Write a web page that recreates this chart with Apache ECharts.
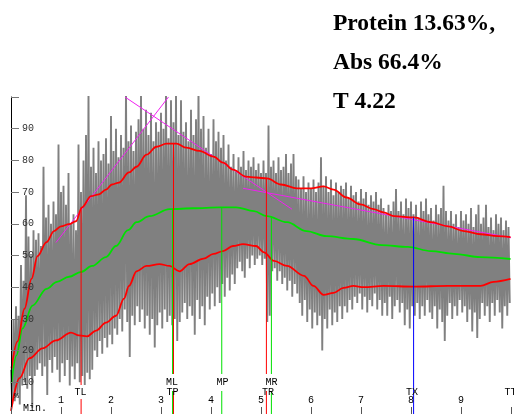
<!DOCTYPE html>
<html><head><meta charset="utf-8">
<script src="https://cdn.jsdelivr.net/npm/echarts@6/dist/echarts.min.js"></script>
<style>html,body{margin:0;padding:0;background:#fff}#c{width:514px;height:414px}</style>
</head><body><div id="c"></div>
<script>
// ---- data ----
const titleLines = ['Protein 13.63%,', 'Abs 66.4%', 'T 4.22'];
const xTickLabels = ['1','2','3','4','5','6','7','8','9'];
const yTickLabels = ['10','20','30','40','50','60','70','80','90'];

// raw mixograph trace: one high and one low value every 0.05 min
const traceStep = 0.05;
const traceHigh = [
 14,30,34,31,47,42,69,56,50,58,
 55,57,53,78,62,66,60,67,63,85,
 70,72,66,76,60,63,58,85,70,80,
 88,102,78,84,76,86,80,82,87,79,
 94,83,90,81,88,84,102,86,91,83,
 89,93,101,90,96,88,95,86,92,89,
 95,90,102,87,99,92,101,88,99,89,
 92,86,96,88,93,103,90,94,84,90,
 82,93,86,89,84,88,80,85,78,82,
 77,81,78,83,77,80,78,81,77,79,
 76,80,76,91,78,80,76,81,77,78,
 82,76,79,82,75,74,71,75,70,73,
 71,74,70,73,81,72,75,70,74,69,
 73,70,72,71,73,68,72,69,70,67,
 71,68,70,66,69,67,70,66,68,65,
 63,66,64,67,71,64,67,63,68,65,
 67,63,66,62,67,64,68,63,65,61,
 66,63,65,72,64,61,64,60,63,59,
 64,61,63,60,65,59,63,66,60,62,
 66,59,62,58,63,60,62,58,61,59
];
const traceLow = [
 3,4,6,3,9,10,8,12,2,12,
 14,16,12,15,6,17,13,18,14,10,
 16,12,17,9,15,11,16,10,12,9,
 13,11,14,20,18,23,19,24,21,25,
 22,27,25,30,26,33,29,18,31,28,
 34,29,33,27,31,25,30,21,28,32,
 27,33,29,31,28,30,23,29,32,35,
 30,34,31,25,36,30,34,28,37,33,
 38,34,40,35,41,37,43,39,44,41,
 46,48,45,43,49,46,50,47,49,50,
 47,49,29,31,45,46,42,45,41,43,
 39,42,37,41,38,35,31,36,29,33,
 27,32,28,31,20,30,27,33,28,32,
 29,34,30,34,32,36,33,37,35,38,
 33,37,32,36,34,38,33,36,31,35,
 31,37,30,34,36,32,35,28,33,27,
 34,31,35,30,34,31,36,32,30,34,
 27,33,29,23,31,35,30,34,31,36,
 32,34,29,33,26,32,24,30,35,31,
 34,29,35,31,36,32,27,34,31,35
];

// envelope curves (time in min, value in %)
const upperTime  = [0.01,0.13,0.27,0.41,0.53,0.71,0.86,1.00,1.16,1.30,1.42,1.60,1.76,1.90,2.02,2.16,2.36,2.51,2.71,2.91,3.11,3.31,3.51,3.77,4.05,4.24,4.44,4.70,4.90,5.12,5.40,5.72,6.00,6.25,6.45,6.71,6.99,7.25,7.45,7.66,8.06,8.40,8.74,9.06,9.39,9.73,9.99];
const upperValue = [14.4,22.9,33.2,42.6,49.8,54.2,57.7,59.2,59.9,60.8,65.2,68.7,69.3,70.8,72.4,73.0,76.2,78.0,81.8,84.3,85.3,85.3,84.0,83.0,81.2,79.3,77.1,74.9,74.6,74.3,72.4,71.2,71.2,71.8,70.8,68.3,66.1,64.6,63.6,62.4,62.0,60.5,59.2,57.7,56.7,56.1,55.8];
const middleTime  = [0.01,0.11,0.23,0.43,0.71,0.92,1.16,1.40,1.62,1.90,2.10,2.34,2.51,2.77,3.17,3.65,4.17,4.50,4.86,5.12,5.52,5.91,6.31,6.85,7.41,7.94,8.40,8.86,9.39,9.99];
const middleValue = [9.7,18.5,27.0,34.2,39.5,41.7,43.3,44.8,46.7,49.5,53.0,58.0,60.5,62.4,64.6,64.9,65.2,65.2,64.0,62.4,60.5,57.7,56.1,55.2,53.3,52.7,51.4,50.5,49.5,48.9];
const lowerTime  = [0.00,0.17,0.37,0.63,0.90,1.20,1.36,1.52,1.70,1.90,2.10,2.26,2.36,2.51,2.71,2.97,3.17,3.37,3.57,3.85,4.05,4.24,4.44,4.64,4.90,5.06,5.26,5.52,5.86,6.05,6.25,6.45,6.65,6.85,7.05,7.45,8.06,8.74,9.39,9.65,9.99];
const lowerValue = [1.0,11.3,17.6,20.7,23.2,25.7,24.8,24.5,26.3,28.8,31.0,36.4,40.4,45.0,46.7,47.3,46.7,45.0,47.3,49.0,50.5,51.4,53.0,53.6,53.0,51.0,48.3,46.7,43.6,40.4,37.6,38.2,39.8,40.4,40.0,40.4,40.2,40.4,40.4,41.7,42.6];

// tangent lines
const tangentStartTime  = [0.90, 2.28, 4.64];
const tangentStartValue = [54.1, 100.0, 71.2];
const tangentEndTime    = [3.15, 5.62, 10.0];
const tangentEndValue   = [100.0, 64.6, 55.6];

// event markers
const markerNames  = ['TL','ML','TP','MP','MR','TR','TX','TT'];
const markerTimes  = [1.402, 3.250, 3.231, 4.215, 5.108, 5.208, 8.052, null];
const markerTops   = [65.2, 85.4, 64.6, 65.2, 74.3, 62.0, 62.0, null];
const markerColors = ['#ff0000','#ff0000','#00e000','#00e000','#ff0000','#00e000','#0000ff',null];
const labelTimes   = [1.39, 3.22, 3.23, 4.23, 5.21, 5.14, 8.02, 9.99];
const labelRows    = [2, 1, 2, 1, 1, 2, 2, 2];
const labelBoxed   = [true, true, false, true, true, false, false, false];

// ---- chart ----
const chart = echarts.init(document.getElementById('c'));
const mono = '"Liberation Mono", "DejaVu Sans Mono", monospace';

const traceData = [];
for (let i = 0; i < traceHigh.length; i++) {
  const t = i * traceStep;
  traceData.push([t, traceHigh[i]]);
  traceData.push([t + traceStep / 2, traceLow[i]]);
}
const pairs = (ts, vs) => ts.map((t, i) => [t, vs[i]]);

const series = [
  { type: 'line', data: traceData, symbol: 'none', silent: true, z: 1,
    lineStyle: { color: '#808080', width: 1.9 }, animation: false },
  { type: 'line', data: pairs(middleTime, middleValue), symbol: 'none', smooth: 0.35, smoothMonotone: 'x', z: 3,
    lineStyle: { color: '#00e000', width: 1.8 }, animation: false },
];
tangentStartTime.forEach((t, i) => {
  series.push({ type: 'line', data: [[t, tangentStartValue[i]], [tangentEndTime[i], tangentEndValue[i]]],
    symbol: 'none', z: 4, lineStyle: { color: '#f020f0', width: 1 }, animation: false });
});
series.push(
  { type: 'line', data: pairs(upperTime, upperValue), symbol: 'none', smooth: 0.35, smoothMonotone: 'x', z: 5,
    lineStyle: { color: '#ff0000', width: 1.8 }, animation: false },
  { type: 'line', data: pairs(lowerTime, lowerValue), symbol: 'none', smooth: 0.35, smoothMonotone: 'x', z: 5,
    lineStyle: { color: '#ff0000', width: 1.8 }, animation: false }
);
markerTimes.forEach((t, i) => {
  if (t === null) return;
  series.push({ type: 'line', data: [[t, markerTops[i]], [t, 0]], symbol: 'none', z: 6,
    lineStyle: { color: markerColors[i], width: 1 }, animation: false });
});

chart.setOption({
  animation: false,
  grid: { left: 11, top: 97, width: 503, height: 319, containLabel: false },
  xAxis: {
    type: 'value', min: 0, max: 10, interval: 1, z: 10,
    axisLine: { show: false },
    axisTick: { show: true, inside: true, length: 7, lineStyle: { color: '#555' } },
    axisLabel: { inside: true, margin: 9, fontFamily: mono, fontSize: 10, color: '#000',
      formatter: v => (v > 0 && v < 10) ? xTickLabels[v - 1] : '' },
    splitLine: { show: false }
  },
  yAxis: {
    type: 'value', min: 0, max: 100, interval: 10, z: 10,
    axisLine: { show: true, lineStyle: { color: '#000', width: 1 } },
    axisTick: { show: true, inside: true, length: 8, lineStyle: { color: '#777' } },
    axisLabel: { inside: true, margin: 11, fontFamily: mono, fontSize: 10, color: '#333',
      formatter: v => (v > 0 && v < 100) ? yTickLabels[v / 10 - 1] : '' },
    splitLine: { show: false }
  },
  series: series
});

const graphics = [];
titleLines.forEach((s, i) => {
  graphics.push({ type: 'text', z: 20, style: { x: 333, y: [24, 63.3, 102.3][i], text: s,
    font: 'bold 23.5px "Liberation Serif", "Times New Roman", serif', fill: '#000', verticalAlign: 'middle', align: 'left' } });
});
markerNames.forEach((name, i) => {
  const px = chart.convertToPixel({ gridIndex: 0 }, [labelTimes[i], 0])[0];
  const y = labelRows[i] === 1 ? 382.5 : 392;
  graphics.push({ type: 'text', z: 20, style: { x: px, y: y, text: name, font: '10px ' + mono, fill: '#000',
    align: 'center', verticalAlign: 'middle',
    backgroundColor: labelBoxed[i] ? '#fff' : null,
    padding: labelBoxed[i] ? (labelRows[i] === 1 ? [7, 1, 0, 1] : [3, 1, 1, 1]) : 0 } });
});
graphics.push({ type: 'text', z: 20, style: { x: 14, y: 396, text: '%', font: '8px ' + mono, fill: '#000', verticalAlign: 'middle' } });
graphics.push({ type: 'text', z: 20, style: { x: 23, y: 408.5, text: 'Min.', font: '10px ' + mono, fill: '#000', verticalAlign: 'middle' } });
chart.setOption({ graphic: graphics });
</script>
</body></html>
